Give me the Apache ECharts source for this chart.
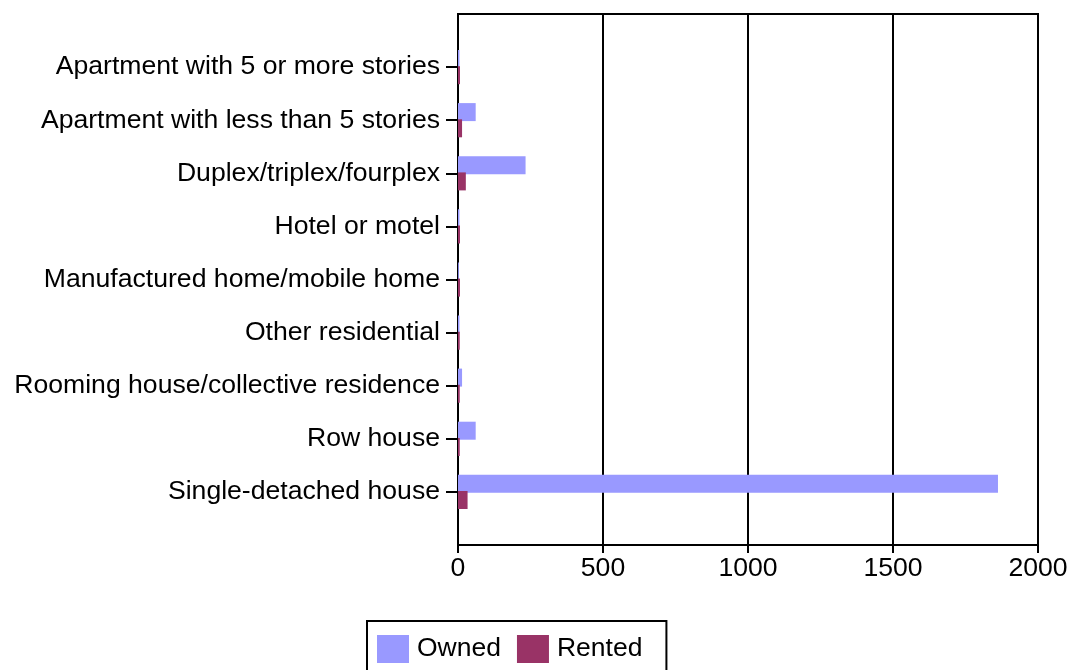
<!DOCTYPE html>
<html>
<head>
<meta charset="utf-8">
<script src="https://cdn.jsdelivr.net/npm/echarts@6/dist/echarts.min.js"></script>
<style>
html,body{margin:0;padding:0;background:#fff;}
#chart{width:1069px;height:670px;}
</style>
</head>
<body>
<div id="chart"></div>
<script>
const categories = [
  'Apartment with 5 or more stories',
  'Apartment with less than 5 stories',
  'Duplex/triplex/fourplex',
  'Hotel or motel',
  'Manufactured home/mobile home',
  'Other residential',
  'Rooming house/collective residence',
  'Row house',
  'Single-detached house'
];
const owned  = [5, 61, 233, 5, 3, 5, 14, 61, 1862];
const rented = [7, 14, 27, 7, 7, 6, 6, 6, 33];
const xTicks = [0, 500, 1000, 1500, 2000];

// pad with empty slots so the categories sit on the inner band boundaries
const padCats = [''].concat(categories, ['']);
const padOwned = [null].concat(owned, [null]);
const padRented = [null].concat(rented, [null]);

const FONT = 'Liberation Sans, Arial, sans-serif';
const FS = 26.6;
const chart = echarts.init(document.getElementById('chart'), null, {renderer: 'canvas'});
chart.setOption({
  animation: false,
  backgroundColor: '#ffffff',
  textStyle: {fontFamily: FONT},
  grid: {
    left: 458, top: 14, width: 580, height: 531,
    show: true, borderColor: '#000', borderWidth: 2, backgroundColor: 'transparent',
    containLabel: false,
    outerBoundsMode: 'none'
  },
  legend: {
    data: ['Owned', 'Rented'],
    left: 367, top: 621,
    orient: 'horizontal',
    icon: 'rect',
    itemWidth: 32, itemHeight: 28, itemGap: 16,
    padding: [14, 24, 14, 10],
    borderColor: '#000', borderWidth: 2,
    textStyle: {fontFamily: FONT, fontSize: 26.5, color: '#000', padding: [0, 0, 0, 3]}
  },
  xAxis: {
    type: 'value',
    min: xTicks[0], max: xTicks[xTicks.length - 1], interval: xTicks[1] - xTicks[0],
    axisLine: {show: true, lineStyle: {color: '#000', width: 2}},
    axisTick: {show: true, length: 8, lineStyle: {color: '#000', width: 2}},
    axisLabel: {fontFamily: FONT, fontSize: FS, color: '#000', margin: 10,
                formatter: function (v) { return String(v); }},
    splitLine: {show: true, lineStyle: {color: '#000', width: 2}}
  },
  yAxis: {
    type: 'category',
    data: padCats,
    inverse: true,
    boundaryGap: false,
    axisLine: {show: true, lineStyle: {color: '#000', width: 2}},
    axisTick: {show: true, length: 12, lineStyle: {color: '#000', width: 2},
               interval: function (i, v) { return v !== ''; }},
    axisLabel: {fontFamily: FONT, fontSize: FS, color: '#000', margin: 18,
                interval: 0},
    splitLine: {show: false}
  },
  series: [
    {name: 'Owned', type: 'bar', data: padOwned, barWidth: 18, barGap: '-10%',
     itemStyle: {color: '#9999FF'}},
    {name: 'Rented', type: 'bar', data: padRented, barWidth: 18, barGap: '-10%',
     itemStyle: {color: '#993366'}}
  ]
});
</script>
</body>
</html>
